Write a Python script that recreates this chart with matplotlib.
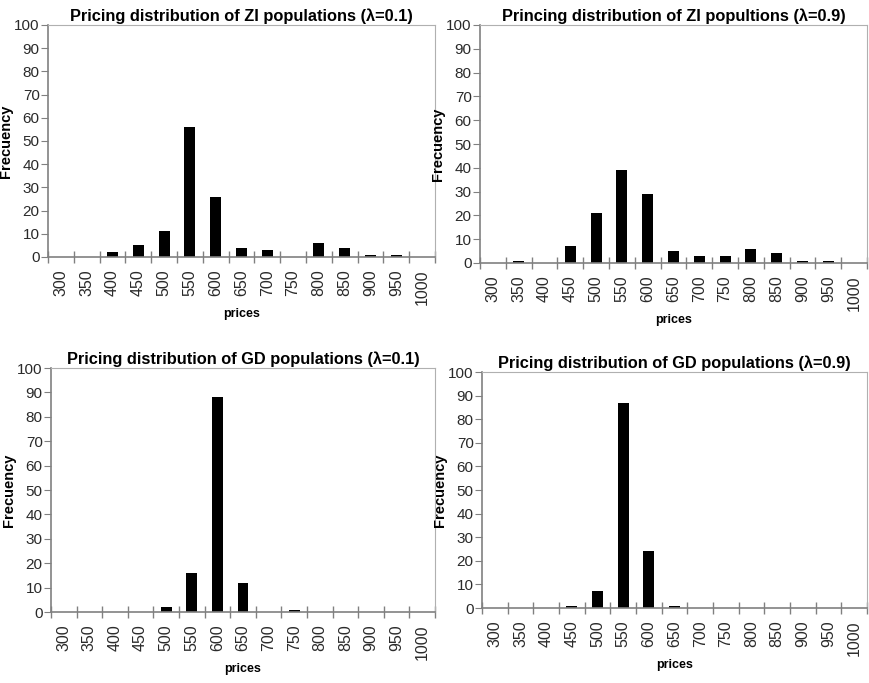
import numpy as np
import matplotlib.pyplot as plt

plt.rcParams['font.family'] = ['Liberation Sans', 'DejaVu Sans']

prices = ["300", "350", "400", "450", "500", "550", "600", "650", "700",
          "750", "800", "850", "900", "950", "1000"]

zi_01 = [0, 0, 2, 5, 11, 56, 26, 4, 3, 0, 6, 4, 1, 1, 0]
zi_09 = [0, 1, 0, 7, 21, 39, 29, 5, 3, 3, 6, 4, 1, 1, 0]
gd_01 = [0, 0, 0, 0, 2, 16, 88, 12, 0, 1, 0, 0, 0, 0, 0]
gd_09 = [0, 0, 0, 1, 7, 87, 24, 1, 0, 0, 0, 0, 0, 0, 0]

titles = [
    "Pricing distribution of ZI populations (\u03bb=0.1)",
    "Princing distribution of ZI popultions (\u03bb=0.9)",
    "Pricing distribution of GD populations (\u03bb=0.1)",
    "Pricing distribution of GD populations (\u03bb=0.9)",
]

W, H = 869, 683
fig = plt.figure(figsize=(W / 100, H / 100), dpi=100)

# pixel boxes: left, top, right, bottom
boxes = [(48, 25, 435, 257), (480, 25, 867, 263),
         (51, 368, 435, 612), (482, 372, 867, 608)]

axis_gray = '#808080'

for (l, t, r, b), vals, title in zip(boxes, [zi_01, zi_09, gd_01, gd_09], titles):
    ax = fig.add_axes([l / W, 1 - b / H, (r - l) / W, (b - t) / H])
    x = np.arange(len(prices))
    ax.bar(x, vals, width=0.42, color='black')
    ax.set_xlim(-0.5, len(prices) - 0.5)
    ax.set_ylim(0, 100)
    ax.set_yticks(range(0, 101, 10))
    ax.set_xticks(x)
    ax.set_xticklabels(prices, rotation=90, fontsize=11.5, color='#2a2a2a')
    ax.set_xticks(np.arange(-0.5, len(prices), 1), minor=True)
    ax.tick_params(axis='x', which='major', length=0, pad=9)
    ax.tick_params(axis='x', which='minor', direction='inout', length=9,
                   color=axis_gray, width=1)
    ax.tick_params(axis='y', direction='out', length=5, color=axis_gray,
                   labelsize=11, labelcolor='#2a2a2a', pad=1)
    for s in ['left', 'bottom']:
        ax.spines[s].set_color(axis_gray)
        ax.spines[s].set_linewidth(1.2)
    for s in ['top', 'right']:
        ax.spines[s].set_color('#b0b0b0')
        ax.spines[s].set_linewidth(0.8)
    ax.set_title(title, fontsize=11.8, fontweight='bold', pad=3)
    ax.set_xlabel('prices', fontsize=9, fontweight='bold', labelpad=2)
    ax.set_ylabel('Frecuency', fontsize=10.5, fontweight='bold', labelpad=1)

fig.savefig('out.png', dpi=100)
